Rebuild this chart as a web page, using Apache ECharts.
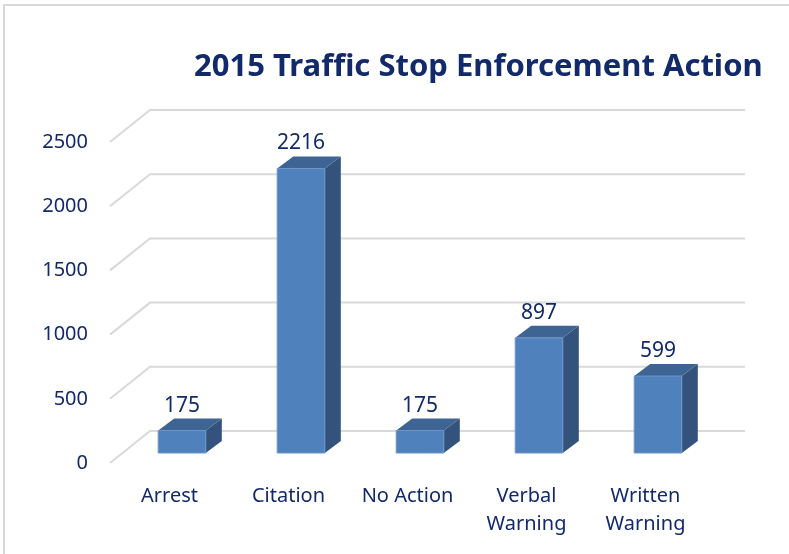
<!DOCTYPE html>
<html>
<head>
<meta charset="utf-8">
<script src="https://cdn.jsdelivr.net/npm/echarts@6/dist/echarts.min.js"></script>
<style>
  html, body { margin: 0; padding: 0; background: #fff; }
  #root { width: 789px; height: 554px; }
</style>
</head>
<body>
<div id="root"></div>
<script>
var categories = ['Arrest', 'Citation', 'No Action', 'Verbal\nWarning', 'Written\nWarning'];
var values = [175, 2216, 175, 897, 599];
var yTicks = [0, 500, 1000, 1500, 2000, 2500];

// fake 3d: back wall offset and bar depth
var wallDx = 40, wallDy = -32;
var barFrontDx = 12.5, barFrontDy = -10;
var barDepthDx = 16, barDepthDy = -12;
var textColor = '#12296A';

(function () {
  var chart = echarts.init(document.getElementById('root'));

  var gridLines = function (params, api) {
    var v = api.value(1);
    var band = api.size([1, 0])[0];
    var first = api.coord([0, v]);
    var last = api.coord([categories.length - 1, v]);
    var x0 = first[0] - band / 2;
    var x1 = last[0] + band / 2;
    return {
      type: 'polyline',
      shape: {
        points: [[x0, first[1]], [x0 + wallDx, first[1] + wallDy], [x1 + wallDx, first[1] + wallDy]]
      },
      style: { stroke: '#D9D9D9', lineWidth: 2, fill: null },
      silent: true
    };
  };

  var bars3d = function (params, api) {
    var idx = api.value(0);
    var top = api.coord([idx, api.value(1)]);
    var base = api.coord([idx, 0]);
    var band = api.size([1, 0])[0];
    var w = band * 0.4;
    var xl = top[0] - w / 2 + barFrontDx;
    var xr = xl + w;
    var yt = top[1] + barFrontDy;
    var yb = base[1] + barFrontDy;
    return {
      type: 'group',
      children: [
        {
          type: 'polygon',
          shape: { points: [[xr, yt], [xr + barDepthDx, yt + barDepthDy], [xr + barDepthDx, yb + barDepthDy], [xr, yb]] },
          style: { fill: '#33537C' }
        },
        {
          type: 'polygon',
          shape: { points: [[xl, yt], [xr, yt], [xr + barDepthDx, yt + barDepthDy], [xl + barDepthDx, yt + barDepthDy]] },
          style: { fill: '#3D6492' }
        },
        {
          type: 'rect',
          shape: { x: xl, y: yt, width: w, height: yb - yt },
          style: { fill: '#4F81BD', stroke: '#6F95C8', lineWidth: 1 }
        },
        {
          type: 'text',
          style: {
            text: String(api.value(1)),
            x: (xl + xr) / 2,
            y: yt + barDepthDy - 13,
            align: 'center',
            verticalAlign: 'middle',
            fill: textColor,
            font: '21px "Noto Sans"'
          }
        }
      ]
    };
  };

  var option = {
    animation: false,
    textStyle: { fontFamily: 'Noto Sans' },
    title: {
      text: '2015 Traffic Stop Enforcement Action',
      left: 189,
      top: 47,
      textStyle: { fontSize: 31, fontWeight: 'bold', color: textColor, fontFamily: 'Noto Sans' }
    },
    graphic: [
      {
        type: 'polyline',
        shape: { points: [[4, 560], [4, 5], [795, 5]] },
        style: { stroke: '#D9D9D9', lineWidth: 2, fill: null },
        silent: true
      }
    ],
    grid: { left: 110, right: 84, top: 142, bottom: 91 },
    xAxis: {
      type: 'category',
      data: categories,
      axisLine: { show: false },
      axisTick: { show: false },
      splitLine: { show: false },
      axisLabel: { fontSize: 20, color: textColor, margin: 19, lineHeight: 28, interval: 0 }
    },
    yAxis: {
      type: 'value',
      min: 0,
      max: 2500,
      interval: 500,
      axisLine: { show: false },
      axisTick: { show: false },
      splitLine: { show: false },
      axisLabel: { fontSize: 20, color: textColor, margin: 22, formatter: function (v) { return String(v); } }
    },
    series: [
      {
        type: 'custom',
        renderItem: gridLines,
        data: yTicks.map(function (v) { return [0, v]; }),
        encode: { x: 0, y: 1 },
        z: 1
      },
      {
        type: 'custom',
        renderItem: bars3d,
        data: values.map(function (v, i) { return [i, v]; }),
        encode: { x: 0, y: 1 },
        z: 2
      }
    ]
  };

  chart.setOption(option);
})();
</script>
</body>
</html>
